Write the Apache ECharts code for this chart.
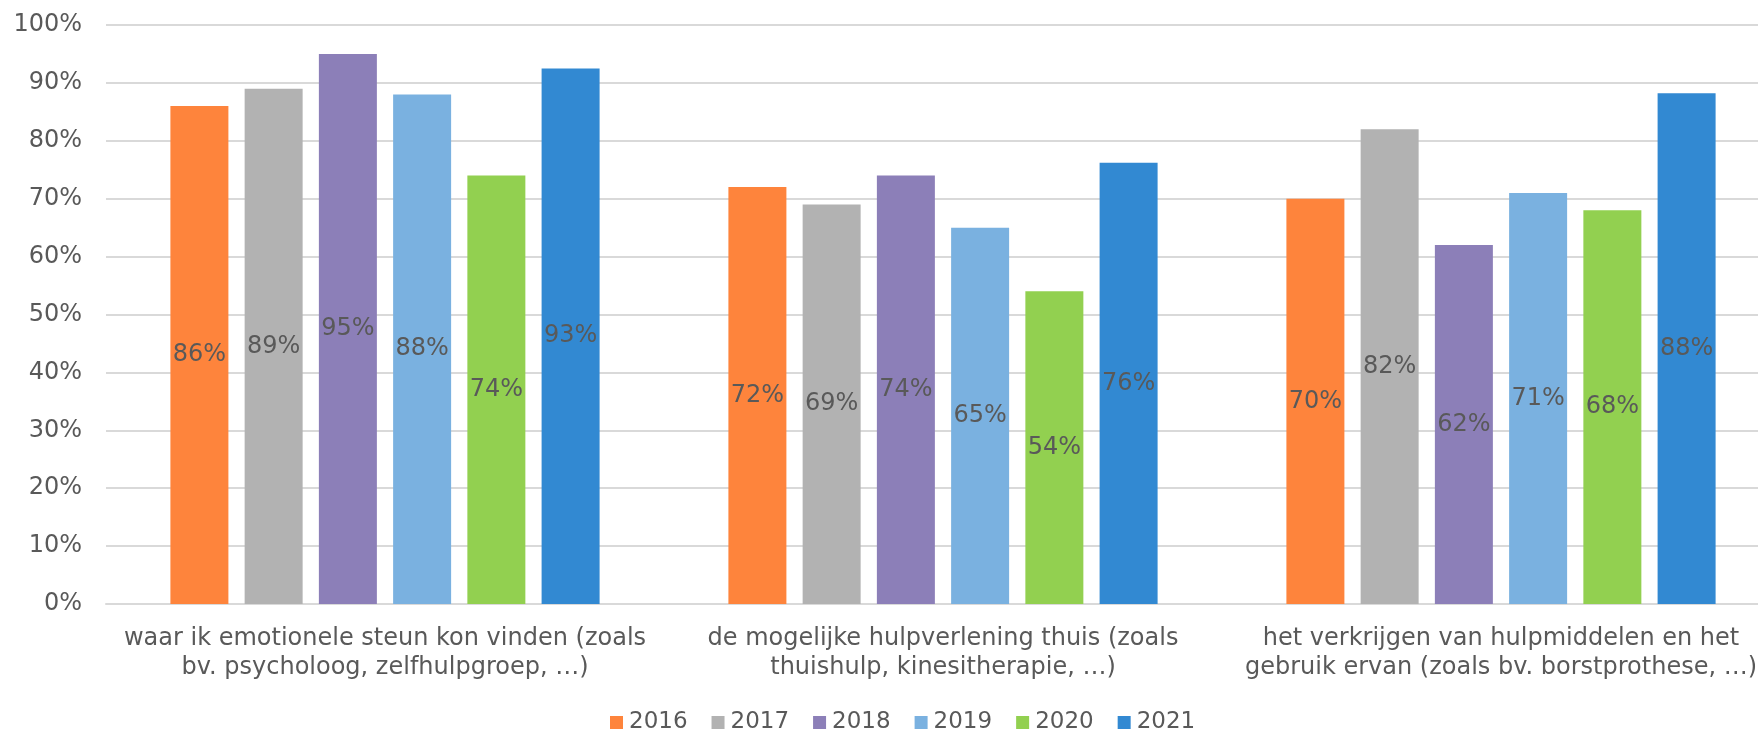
<!DOCTYPE html>
<html>
<head>
<meta charset="utf-8">
<script src="https://cdn.jsdelivr.net/npm/echarts@6/dist/echarts.min.js"></script>
<style>
html,body{margin:0;padding:0;background:#fff;}
#c{width:1758px;height:731px;}
</style>
</head>
<body>
<div id="c"></div>
<script>
const categories = [
  "waar ik emotionele steun kon vinden (zoals\nbv. psycholoog, zelfhulpgroep, …)",
  "de mogelijke hulpverlening thuis (zoals\nthuishulp, kinesitherapie, …)",
  "het verkrijgen van hulpmiddelen en het\ngebruik ervan (zoals bv. borstprothese, …)"
];
const years = ["2016", "2017", "2018", "2019", "2020", "2021"];
const v2016 = [86, 72, 70];
const v2017 = [89, 69, 82];
const v2018 = [95, 74, 62];
const v2019 = [88, 65, 71];
const v2020 = [74, 54, 68];
const v2021 = [92.5, 76.2, 88.2];
const yTicks = [0, 10, 20, 30, 40, 50, 60, 70, 80, 90, 100];

const seriesValues = [v2016, v2017, v2018, v2019, v2020, v2021];
const colors = ["#fe843c", "#b2b2b2", "#8c7fb8", "#7ab1e0", "#92d050", "#3289d2"];
const FONT = "DejaVu Sans";
const TXT = "#595959";

const chart = echarts.init(document.getElementById('c'));
chart.setOption({
  animation: false,
  textStyle: { fontFamily: FONT },
  grid: { left: 106, right: -22, top: 25, bottom: 127, outerBoundsMode: 'none' },
  legend: {
    left: 605, top: 706,
    itemWidth: 13, itemHeight: 13, itemGap: 24,
    icon: 'rect',
    textStyle: { fontFamily: FONT, fontSize: 23, color: TXT, padding: [0,0,0,1] },
    data: years
  },
  xAxis: {
    type: 'category',
    data: categories,
    axisLine: { lineStyle: { color: '#d9d9d9', width: 2 } },
    axisTick: { show: false },
    axisLabel: { fontFamily: FONT, fontSize: 24, color: TXT, lineHeight: 29, margin: 20, interval: 0 }
  },
  yAxis: {
    type: 'value', min: 0, max: 100, interval: 10,
    axisLine: { show: false },
    axisTick: { show: false },
    splitLine: { lineStyle: { color: '#d9d9d9', width: 2 } },
    axisLabel: {
      fontFamily: FONT, fontSize: 24, color: TXT, margin: 24,
      formatter: v => yTicks.includes(v) ? v + '%' : ''
    }
  },
  series: years.map((y, i) => ({
    name: y,
    type: 'bar',
    data: seriesValues[i],
    barWidth: 58,
    barGap: '28%',
    itemStyle: { color: colors[i] },
    label: {
      show: true, position: 'inside',
      fontFamily: FONT, fontSize: 24, color: TXT,
      formatter: p => Math.round(p.value) + '%'
    }
  }))
});
</script>
</body>
</html>
